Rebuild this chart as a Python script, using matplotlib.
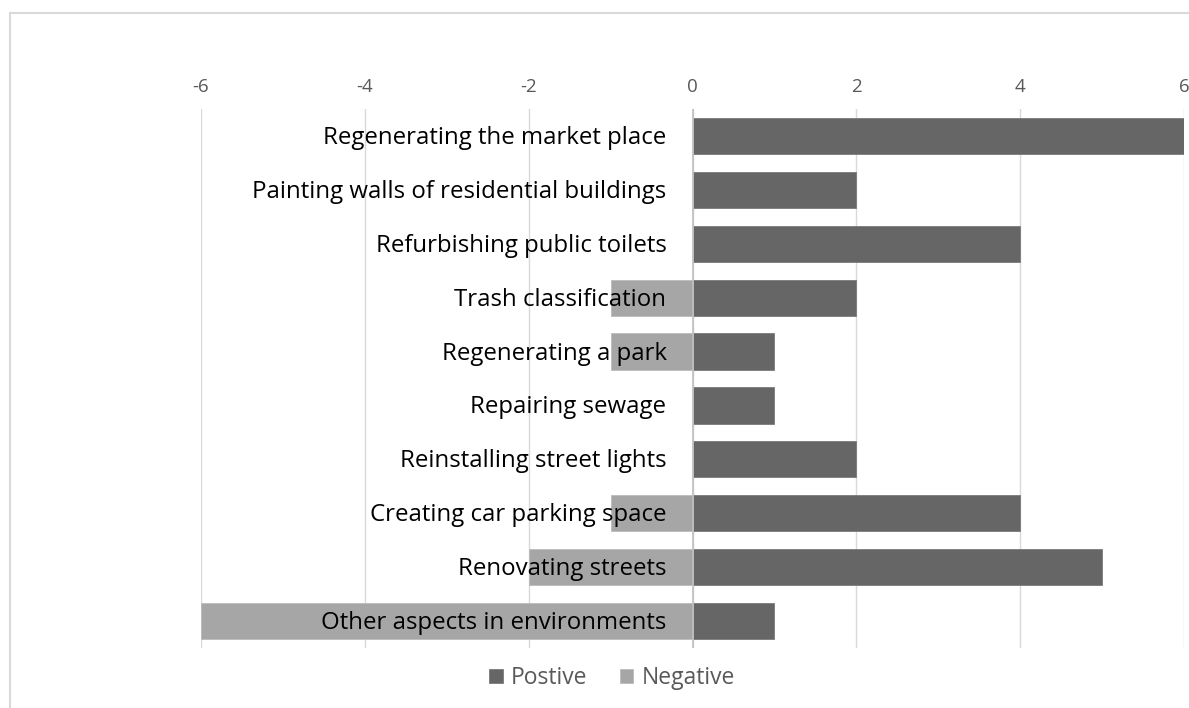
import matplotlib
matplotlib.use("Agg")
import matplotlib.pyplot as plt
from matplotlib.patches import Rectangle

categories = [
    "Regenerating the market place",
    "Painting walls of residential buildings",
    "Refurbishing public toilets",
    "Trash classification",
    "Regenerating a park",
    "Repairing sewage",
    "Reinstalling street lights",
    "Creating car parking space",
    "Renovating streets",
    "Other aspects in environments",
]
positive = [6, 2, 4, 2, 1, 1, 2, 4, 5, 1]
negative = [0, 0, 0, -1, -1, 0, 0, -1, -2, -6]
tick_values = [-6, -4, -2, 0, 2, 4, 6]

W, H = 1189, 708
fig = plt.figure(figsize=(W / 100, H / 100), dpi=100)
fig.patches.append(Rectangle((10 / W, -0.1), 1.2, 1 - 13 / H + 0.1, transform=fig.transFigure,
                             fill=False, edgecolor="#d9d9d9", linewidth=1.5))

ax = fig.add_axes([201 / W, 1 - 648 / H, (1184 - 201) / W, (648 - 109) / H])
fam = ["Open Sans", "DejaVu Sans"]
y = list(range(len(categories)))
ax.barh(y, positive, height=0.67, color="#666666", edgecolor="#7a7a7a", linewidth=0.6, zorder=2, label="Postive")
ax.barh(y, negative, height=0.67, color="#a6a6a6", edgecolor="#bcbcbc", linewidth=0.6, zorder=2, label="Negative")
ax.set_xlim(-6, 6)
ax.set_ylim(len(categories) - 0.5, -0.5)
ax.set_xticks(tick_values)
ax.set_xticklabels([str(v) for v in tick_values], fontsize=13.5, color="#595959", family=fam)
ax.xaxis.tick_top()
ax.tick_params(axis="x", length=0, pad=9)
ax.set_yticks([])
for s in ax.spines.values():
    s.set_visible(False)
ax.grid(axis="x", color="#d9d9d9", linewidth=1, zorder=0)
ax.axvline(0, color="#bfbfbf", linewidth=1.2, zorder=3)
for i, c in enumerate(categories):
    ax.annotate(c, (0, i), xytext=(-26, -2), textcoords="offset pixels", ha="right", va="center",
                fontsize=17.3, color="#000000", family=fam, zorder=4)

leg = fig.legend(loc="center", bbox_to_anchor=(612 / W, 1 - 678 / H), ncol=2, frameon=False,
                 prop={"family": fam, "size": 16.5}, handlelength=0.6, handleheight=0.6,
                 handletextpad=0.35, columnspacing=1.4)
for t in leg.get_texts():
    t.set_color("#595959")
fig.savefig("out.png", dpi=100)
